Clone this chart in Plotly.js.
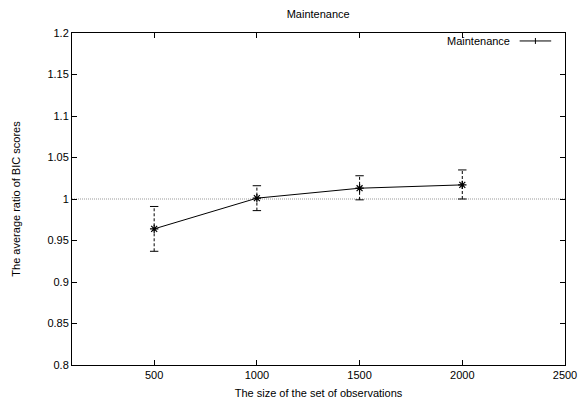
<!DOCTYPE html>
<html>
<head>
<meta charset="utf-8">
<script src="https://cdn.plot.ly/plotly-3.0.1.min.js"></script>
<style>html,body{margin:0;padding:0;background:#fff}#chart{width:586px;height:403px}</style>
</head>
<body>
<div id="chart"></div>
<script>
// Data
const sizes = [500, 1000, 1500, 2000];
const ratio = [0.964, 1.001, 1.013, 1.017];
const lower = [0.937, 0.986, 0.999, 1.000];
const upper = [0.991, 1.016, 1.028, 1.035];
const seriesName = "Maintenance";
const chartTitle = "Maintenance";
const xTitle = "The size of the set of observations";
const yTitle = "The average ratio of BIC scores";
const refLine = 1;
const xTicks = [500, 1000, 1500, 2000, 2500];
const yTicks = [0.8, 0.85, 0.9, 0.95, 1, 1.05, 1.1, 1.15, 1.2];

const font = {family: "Liberation Sans, Arial, sans-serif", size: 11, color: "#000"};

// dashed vertical error bars built from the data arrays
const barX = [], barY = [];
sizes.forEach((s, i) => { barX.push(s, s, null); barY.push(lower[i], upper[i], null); });

const traces = [
  {x: barX, y: barY, mode: "lines", line: {color: "#000", width: 1, dash: "3px,2px"}, showlegend: false, hoverinfo: "skip"},
  {x: sizes.concat(sizes), y: lower.concat(upper), mode: "markers",
   marker: {symbol: "line-ew-open", size: 6, color: "#000", line: {color: "#000", width: 1}}, showlegend: false, hoverinfo: "skip"},
  {x: sizes, y: ratio, name: seriesName, mode: "lines+markers",
   line: {color: "#000", width: 1},
   marker: {symbol: "asterisk-open", size: 7, color: "#000", line: {color: "#000", width: 1.2}}, showlegend: false}
];

const axisCommon = {
  showline: true, linecolor: "#000", linewidth: 1, mirror: "allticks",
  ticks: "inside", ticklen: 5, tickcolor: "#000", tickwidth: 1,
  showgrid: false, zeroline: false, tickfont: font
};

const layout = {
  width: 586, height: 403,
  margin: {l: 72, r: 21, t: 33, b: 38},
  paper_bgcolor: "#fff", plot_bgcolor: "#fff",
  font: font,
  title: {text: chartTitle, font: font, x: 0.543, xanchor: "center", y: 1 - 14/403, yanchor: "middle", yref: "container"},
  xaxis: Object.assign({}, axisCommon, {range: [100, 2500], tickvals: xTicks, ticktext: xTicks.map(String),
    title: {text: xTitle, font: font, standoff: 9}}),
  yaxis: Object.assign({}, axisCommon, {range: [0.8, 1.2], tickvals: yTicks, ticktext: yTicks.map(String),
    title: {text: yTitle, font: font, standoff: 24}}),
  shapes: [
    {type: "line", xref: "paper", x0: 0, x1: 1, yref: "y", y0: refLine, y1: refLine,
     line: {color: "#999", width: 1, dash: "1px,1px"}, layer: "below"},
    // legend sample
    {type: "line", xref: "paper", yref: "paper", x0: 0.908, x1: 0.972, y0: 0.976, y1: 0.976, line: {color: "#000", width: 1}},
    {type: "line", xref: "paper", yref: "paper", x0: 0.940, x1: 0.940, y0: 0.967, y1: 0.985, line: {color: "#000", width: 1}}
  ],
  annotations: [
    {text: seriesName, xref: "paper", yref: "paper", x: 0.893, y: 0.976, xanchor: "right", yanchor: "middle", showarrow: false, font: font}
  ]
};

Plotly.newPlot("chart", traces, layout, {staticPlot: true, displayModeBar: false});
</script>
</body>
</html>
